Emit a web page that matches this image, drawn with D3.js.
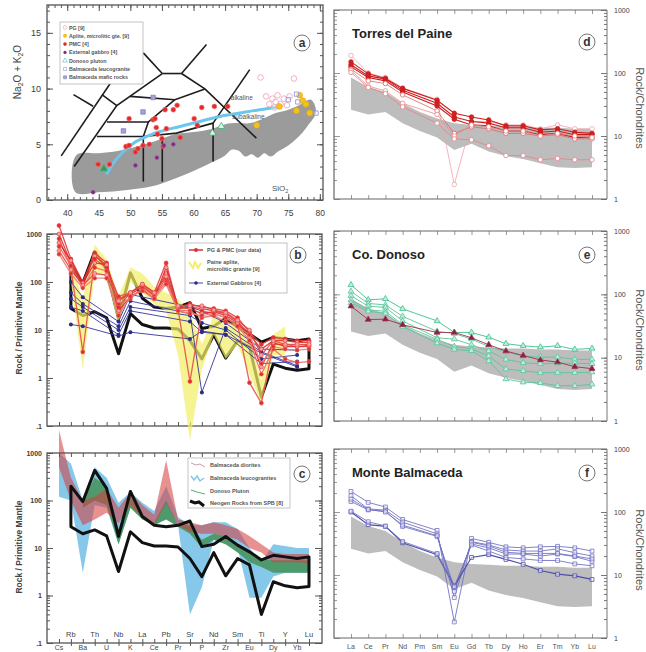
<!DOCTYPE html>
<html><head><meta charset="utf-8">
<script src="https://cdn.jsdelivr.net/npm/d3@7/dist/d3.min.js"></script>
<style>
html,body{margin:0;padding:0;background:#fff;}
svg text{font-family:Arial,"Liberation Sans",Helvetica,sans-serif;}
</style></head>
<body>
<svg id="chart" width="646" height="652"></svg>
<script>
// ======================= DATA =======================
// ---- Panel a : TAS diagram (SiO2 vs Na2O+K2O)
const tasXTicks = [40,45,50,55,60,65,70,75,80];
const tasYTicks = [0,5,10,15];
const tasGrayField = [[41.3,0.7],[41.4,4.0],[45,4.2],[48,4.4],[51,4.8],[54,5.3],[57,5.9],[60,6.1],[63,6.4],[65,6.8],[67,6.9],[69,6.9],[71,7.3],[73,7.8],[75,8.1],[77,8.6],[78.6,9.0],[79.4,7.9],[78,6.6],[76.5,5.6],[75,4.9],[73.5,4.4],[72.2,3.9],[71.2,4.2],[70.2,3.8],[69.2,4.1],[68.2,3.9],[67.2,4.4],[66,4.5],[65,4.0],[63,3.4],[60,2.6],[57,1.9],[54,1.3],[51,1.0],[48,0.8],[45,0.7]];
const tasLines = [
 [[39.05,3.96],[47.05,10.66]],
 [[41.0,9.46],[44.1,8.41]],
 [[41.1,3.0],[47.85,8.47],[55.05,11.35]],
 [[45.5,9.46],[47.85,8.47]],
 [[55.05,11.35],[52.05,13.2]],
 [[55.05,11.35],[58.1,11.35]],
 [[58.1,11.35],[62.05,13.96]],
 [[58.1,11.35],[61.8,9.97],[69.95,5.55]],
 [[68.9,11.7],[63.1,6.9]],
 [[49.95,9.3],[57.05,9.0],[61.8,9.97]],
 [[46.3,7.0],[52.85,7.0]],
 [[44.7,5.7],[52.05,5.7],[57.3,6.0],[63.1,6.9]],
 [[52.05,5.7],[52.05,1.65]],
 [[55.05,5.7],[55.05,1.65]],
 [[63.1,6.9],[63.1,3.45]],
 [[52.05,5.7],[52.85,7.0],[57.05,9.0]]
];
const alkalineDivide = [[46.3,2.4],[47.3,3.3],[48.9,4.35],[50.5,5.1],[52.6,5.7],[54.7,6.15],[57.85,6.6],[61.0,7.05],[64.2,7.5],[67.3,7.8],[70.5,8.1],[73.6,8.35]];
const ptsPG = [[70.6,11.0],[75.9,10.9],[71.5,9.3],[72,8.6],[72.5,9.1],[73,8.8],[73.3,9.4],[73.8,8.6],[74.3,9.1],[72.8,8.3],[74.8,8.5],[75.2,9.3]];
const ptsAplite = [[73.6,8.4],[76.8,9.4],[77.3,8.9],[77.8,8.6],[78.4,7.8],[76.3,8.0],[70.0,6.7]];
const ptsPMC = [[49.8,7.3],[53.6,7.2],[53.9,7.3],[54.1,6.5],[55.5,8.1],[56.8,8.1],[57.4,8.5],[61.3,8.3],[63.3,8.4],[65.4,8.4],[60.1,7.3],[60.6,6.7],[57.9,5.6],[55.7,6.4],[54.3,5.9],[55.0,5.5],[49.3,4.8],[49.8,4.9],[50.8,4.3],[51.2,4.6],[52.0,4.9],[53.0,5.0],[44.9,3.2],[46.7,3.2],[55.2,4.8]];
const ptsExtGabbro = [[44.1,0.7],[50.8,3.1],[54.2,3.8],[56.8,5.0],[55.3,4.9]];
const ptsDonoso = [[45.8,2.8],[64.4,6.6],[63.0,6.0]];
const ptsLeuco = [[76.3,9.5],[76.5,8.8],[79.4,7.8],[75.0,9.0]];
const ptsMafic = [[52.0,7.9],[48.9,6.2],[53.6,9.2]];
const tasLegend = ["PG [9]","Aplite, microlitic gte. [9]","PMC [4]","External gabbro [4]","Donoso pluton","Balmaceda leucogranite","Balmaceda mafic rocks"];

// ---- Panels b, c : primitive-mantle spider diagrams
const pmElements = ["Cs","Rb","Ba","Th","U","Nb","K","La","Ce","Pb","Pr","Sr","P","Nd","Zr","Sm","Eu","Ti","Dy","Y","Yb","Lu"];
const pmTicks = [0.1,1,10,100,1000];
const pmTickLabels = [".1","1","10","100","1000"];
const pgPmcSeries = [
 [1500,300,100,400,250,30,60,90,60,250,30,35,30,28,25,18,9,5,7,6.5,6,6],
 [1000,250,90,350,220,45,55,80,55,150,28,30,28,25,22,15,8,4,6,6,5.5,5.5],
 [800,200,3.5,300,200,50,60,85,50,120,27,0.85,25,22,18,13,0.8,0.3,5,5,4.5,4.5],
 [650,280,95,250,230,25,50,70,45,200,30,28,22,24,20,14,7,1.7,5.5,4.5,4.5,4.8],
 [550,220,80,200,170,35,45,75,50,100,26,25,18,20,15,12,6,1.2,4,2.5,2.1,2.2],
 [450,180,85,150,140,40,60,90,60,130,32,32,32,26,23,16,10,3,6,5,5,5],
 [380,150,75,120,120,20,50,65,45,90,25,22,20,22,18,12,8,2,4.5,4,3.8,4]
];
const extGabbroSeries = [
 [null,100,48,null,null,15,55,null,null,null,null,30,25,null,14,null,null,4,null,null,3.8,null],
 [null,60,35,null,null,12,40,null,null,null,null,22,0.5,null,11,null,null,3.5,null,null,1.8,null],
 [null,45,30,null,null,10,30,null,null,null,null,20,14,null,10,null,null,2.5,null,null,3,null],
 [null,30,25,null,null,8,25,null,null,null,null,15,9,null,8,null,null,2,null,null,2.2,null],
 [null,13,12,null,null,7.5,9,null,null,null,null,6.5,9.5,null,8,null,null,3.3,null,null,1.7,null]
];
const apliteUpper = [null,250,45,600,300,50,200,150,80,60,45,22,5,20,12,15,6,0.9,8,12,null,null];
const apliteLower = [null,100,1.5,150,150,12,100,60,35,25,3,0.05,1.5,8,2.5,5,1.2,0.3,3,3,null,null];
const neogeneUpper = [null,200,95,430,180,17.5,155,46,30,28,30,37,10.7,12,17.5,11.5,8.3,5.6,7,6.5,6,6.5];
const neogeneLower = [null,28,20,24,18,3.2,22,13,11,11,10.5,6,2.5,8,2.6,6,4.4,0.4,1.95,1.6,1.45,1.55];
const dioriteUpper = [3000,300,100,120,180,70,150,80,50,700,40,35,30,35,30,25,18,12,8,7.5,7.5,7.5];
const dioriteLower = [500,100,30,40,55,33,80,45,30,90,30,22,20,20,18,15,10,8,5,5,5,4.8];
const leucoUpper = [1000,600,100,500,300,90,150,90,60,200,45,30,30,35,35,25,10,5,12,11,10,10];
const leucoLower = [120,100,3,80,70,12,70,50,35,80,30,0.4,1.5,15,12,10,0.9,0.9,2.5,3,3,3];
const donosoUpper = [null,null,100,300,200,25,120,50,35,100,30,30,15,20,18,12,8,6,5.5,5.5,5.5,5.5];
const donosoLower = [null,null,70,100,80,12,70,40,30,40,28,20,10,15,12,8,5,4,3,3,3,3];
const legendB = ["PG & PMC (our data)","Paine aplite,","microlitic granite [9]","External Gabbros [4]"];
const legendC = ["Balmaceda diorites","Balmaceda leucogranites","Donoso Pluton","Neogen Rocks from SPB [8]"];

// ---- Panels d, e, f : chondrite-normalised REE
const reeElements = ["La","Ce","Pr","Nd","Pm","Sm","Eu","Gd","Tb","Dy","Ho","Er","Tm","Yb","Lu"];
const reeTicks = [1,10,100,1000];
const reeFieldUpper = [85,60,50,33,24,19,16,15,14.5,14,14,13.5,13.5,13,13];
const reeFieldLower = [26,22,24,16,12,9.5,6,7.5,5.7,4.8,4.3,3.7,3.2,3.1,3.2];
const paineSeries = [
 [190,100,85,58,null,38,1.7,17,17,15,15,13,15,13,13],
 [150,97,82,57,null,37,23,20,18,14.5,14.5,12.5,13,11.5,11],
 [135,90,80,53,null,33,20,17,16,13.5,13.5,11.5,12,10.5,10.5],
 [125,85,75,50,null,30,18.5,15,14.5,12,12,10.5,11,9.5,9.5],
 [115,75,68,45,null,25,11,14,13,11,11,10,10.5,9,9],
 [110,62,52,33,null,22,10,15,14,12,12,10,11,10,9.5],
 [102,59,47,29,null,16,9,8.7,7,4.9,4.9,4.2,4.4,4.2,4.2]
];
const donosoSeries = [
 [141,82,85,59,null,38,25,25,21,16.6,15.4,14.7,15.4,13.5,14],
 [111,72,68,45,null,26,24,19.6,15,12.3,10.6,10.2,10.2,9.4,9.4],
 [95,65,62,38,null,20.6,19.6,16,12.7,9.4,8.3,8,8.2,8.2,8],
 [82,57,54,33,null,19.4,15,13.8,10.6,6.6,6.2,5.8,5.8,5.8,5.9],
 [73,54,50,31,null,17,13.5,12.8,8.9,4.6,4.1,4.0,3.6,3.6,3.8],
 [65,40,40.5,33,null,25,25,20.6,16,12.7,10.8,9.2,8.5,7.2,6.7]
];
const balmacedaSeries = [
 [212,142,120,76,null,51,1.8,38,33,28,27,28,28.5,27,24],
 [181,112,107,69,null,45,4.4,34,30,25,24,24,26,22.6,20],
 [147,108,103,59,null,41,6.3,31,27,21.5,21.5,20,21.5,19.6,16.5],
 [160,110,100,62,null,42,5.5,33,29,23,22,22,22,20,18],
 [100,63,59,32.5,null,21,6.7,19,21,17.7,14.8,11.8,10.3,9.7,8.5],
 [103,70,60,34,null,22,6.5,30,24,19,18,17,17,15,14]
];
const reeTitles = ["Torres del Paine","Co. Donoso","Monte Balmaceda"];

// ======================= DRAWING =======================
const svg = d3.select("#chart");
const INK = "#3c3c3c";
const FONT = "Arial, 'Liberation Sans', sans-serif";

function noDomain(g){ g.select(".domain").remove(); }
function tickStyle(col, fs, bold){
  return g => { g.attr("font-family",FONT).attr("font-size",fs||8).attr("font-weight",bold?"bold":"normal");
    g.selectAll(".tick line").attr("stroke",col||"#555");
    g.selectAll(".tick text").attr("fill",INK); };
}
function frame(x0,y0,x1,y1,col,w){
  svg.append("rect").attr("x",x0).attr("y",y0).attr("width",x1-x0).attr("height",y1-y0)
    .attr("fill","none").attr("stroke",col||"#555").attr("stroke-width",w||1.3);
}
function badge(cx,cy,letter){
  svg.append("circle").attr("cx",cx).attr("cy",cy).attr("r",8).attr("fill","#fff").attr("stroke","#777").attr("stroke-width",1);
  svg.append("text").attr("x",cx).attr("y",cy+4).attr("text-anchor","middle")
    .attr("font-family","'DejaVu Serif','Liberation Serif',serif").attr("font-weight","bold")
    .attr("font-size",12).attr("fill","#333").text(letter);
}
function pairs(keys, vals){ return keys.map((k,i)=>[k,vals[i]]).filter(d=>d[1]!=null); }
function pairs2(keys, hi, lo){ return keys.map((k,i)=>({k, hi:hi[i], lo:lo[i]})).filter(d=>d.hi!=null&&d.lo!=null); }

// ---------------- Panel a ----------------
const aL=47,aR=323,aT=5,aB=200;
const xA = d3.scaleLinear([36.8,80.5],[aL,aR]);
const yA = d3.scaleLinear([0,17.5],[aB,aT]);
const lineA = d3.line().x(d=>xA(d[0])).y(d=>yA(d[1]));

svg.append("path").datum(tasGrayField)
  .attr("d", d3.line().x(d=>xA(d[0])).y(d=>yA(d[1])).curve(d3.curveCatmullRomClosed.alpha(0.5)))
  .attr("fill","#9b9b9b").attr("stroke","none");
svg.append("g").selectAll("path").data(tasLines).join("path")
  .attr("d",lineA).attr("fill","none").attr("stroke","#1e1e1e").attr("stroke-width",1.6);
svg.append("path").datum(alkalineDivide)
  .attr("d", d3.line().x(d=>xA(d[0])).y(d=>yA(d[1])).curve(d3.curveCatmullRom))
  .attr("fill","none").attr("stroke","#6cc6ec").attr("stroke-width",3).attr("stroke-linecap","round");
svg.append("text").attr("x",xA(65.9)).attr("y",yA(8.95)).attr("font-size",6.5).attr("fill","#555").text("alkaline");
svg.append("text").attr("x",xA(66.1)).attr("y",yA(7.25)).attr("font-size",6.5).attr("fill","#555").text("subalkaline");

// points
const gPts = svg.append("g");
gPts.selectAll(".pg").data(ptsPG).join("circle").attr("cx",d=>xA(d[0])).attr("cy",d=>yA(d[1])).attr("r",2.8)
  .attr("fill","#fff").attr("fill-opacity",0.3).attr("stroke","#f0a8bc").attr("stroke-width",0.9);
gPts.selectAll(".ap").data(ptsAplite).join("circle").attr("cx",d=>xA(d[0])).attr("cy",d=>yA(d[1])).attr("r",3)
  .attr("fill","#f2c21e").attr("stroke","#e0a800").attr("stroke-width",0.5);
gPts.selectAll(".pmc").data(ptsPMC).join("circle").attr("cx",d=>xA(d[0])).attr("cy",d=>yA(d[1])).attr("r",2.4)
  .attr("fill","#e42a2a").attr("stroke","#f07070").attr("stroke-width",0.6);
gPts.selectAll(".eg").data(ptsExtGabbro).join("circle").attr("cx",d=>xA(d[0])).attr("cy",d=>yA(d[1])).attr("r",2.1)
  .attr("fill","#7c2c7c").attr("stroke","#b070b0").attr("stroke-width",0.5);
gPts.selectAll(".dn").data(ptsDonoso).join("path").attr("transform",d=>`translate(${xA(d[0])},${yA(d[1])})`)
  .attr("d",d3.symbol(d3.symbolTriangle,22)).attr("fill",(d,i)=>i===0?"#2f9a5a":"#d8f2e4").attr("stroke","#40b070").attr("stroke-width",0.8);
gPts.selectAll(".lc").data(ptsLeuco).join("path").attr("transform",d=>`translate(${xA(d[0])},${yA(d[1])})`)
  .attr("d",d3.symbol(d3.symbolSquare,18)).attr("fill","#fff").attr("fill-opacity",0.4).attr("stroke","#9a96d8").attr("stroke-width",0.9);
gPts.selectAll(".mf").data(ptsMafic).join("path").attr("transform",d=>`translate(${xA(d[0])},${yA(d[1])})`)
  .attr("d",d3.symbol(d3.symbolSquare,20)).attr("fill","#a4a2d6").attr("stroke","#7a78b8").attr("stroke-width",0.7);

// axes a
svg.append("g").attr("transform",`translate(0,${aB})`).call(d3.axisBottom(xA).tickValues(d3.range(37,81)).tickSize(-3).tickFormat("")).call(noDomain).call(tickStyle());
svg.append("g").attr("transform",`translate(0,${aB})`).call(d3.axisBottom(xA).tickValues(tasXTicks).tickSize(-6).tickPadding(10)).call(noDomain).call(tickStyle("#555",8.5));
svg.append("g").attr("transform",`translate(0,${aT})`).call(d3.axisTop(xA).tickValues(d3.range(37,81)).tickSize(-3).tickFormat("")).call(noDomain).call(tickStyle());
svg.append("g").attr("transform",`translate(0,${aT})`).call(d3.axisTop(xA).tickValues(tasXTicks).tickSize(-6).tickFormat("")).call(noDomain).call(tickStyle());
svg.append("g").attr("transform",`translate(${aL},0)`).call(d3.axisLeft(yA).tickValues(d3.range(0,18)).tickSize(-3).tickFormat("")).call(noDomain).call(tickStyle());
svg.append("g").attr("transform",`translate(${aL},0)`).call(d3.axisLeft(yA).tickValues(tasYTicks).tickSize(-6).tickPadding(6)).call(noDomain).call(tickStyle("#555",9));
svg.append("g").attr("transform",`translate(${aR},0)`).call(d3.axisRight(yA).tickValues(d3.range(0,18)).tickSize(-3).tickFormat("")).call(noDomain).call(tickStyle());
svg.append("g").attr("transform",`translate(${aR},0)`).call(d3.axisRight(yA).tickValues(tasYTicks).tickSize(-6).tickFormat("")).call(noDomain).call(tickStyle());
frame(aL,aT,aR,aB,"#555",1.3);
const sio2 = svg.append("text").attr("x",272).attr("y",191).attr("font-size",8).attr("fill","#555");
sio2.append("tspan").text("SiO"); sio2.append("tspan").attr("font-size",5.5).attr("dy",2).text("2");
const ylab = svg.append("text").attr("transform","translate(21,72) rotate(-90)").attr("text-anchor","middle").attr("font-size",10).attr("fill","#444");
ylab.append("tspan").text("Na"); ylab.append("tspan").attr("font-size",7).attr("dy",2).text("2");
ylab.append("tspan").attr("dy",-2).text("O + K"); ylab.append("tspan").attr("font-size",7).attr("dy",2).text("2");
ylab.append("tspan").attr("dy",-2).text("O");

// legend a
svg.append("rect").attr("x",60).attr("y",22).attr("width",83).attr("height",62).attr("fill","#fff").attr("stroke","#aaa").attr("stroke-width",0.7);
const legA = svg.append("g");
tasLegend.forEach((t,i)=>{
  const y = 27.5 + 8.3*i;
  legA.append("text").attr("x",69).attr("y",y+2).attr("font-size",5.3).attr("font-weight","bold").attr("fill","#555").text(t);
});
const lm = [[65,27.5],[65,35.8],[65,44.1],[65,52.4],[65,60.7],[65,69],[65,77.3]];
legA.append("circle").attr("cx",lm[0][0]).attr("cy",lm[0][1]).attr("r",1.8).attr("fill","#fff").attr("stroke","#f0a8bc").attr("stroke-width",0.7);
legA.append("circle").attr("cx",lm[1][0]).attr("cy",lm[1][1]).attr("r",2).attr("fill","#f2c21e");
legA.append("circle").attr("cx",lm[2][0]).attr("cy",lm[2][1]).attr("r",1.8).attr("fill","#e42a2a");
legA.append("circle").attr("cx",lm[3][0]).attr("cy",lm[3][1]).attr("r",1.6).attr("fill","#7c2c7c");
legA.append("path").attr("transform",`translate(${lm[4][0]},${lm[4][1]})`).attr("d",d3.symbol(d3.symbolTriangle,10)).attr("fill","#fff").attr("stroke","#58b8c8").attr("stroke-width",0.6);
legA.append("path").attr("transform",`translate(${lm[5][0]},${lm[5][1]})`).attr("d",d3.symbol(d3.symbolSquare,9)).attr("fill","#fff").attr("stroke","#9a96d8").attr("stroke-width",0.6);
legA.append("path").attr("transform",`translate(${lm[6][0]},${lm[6][1]})`).attr("d",d3.symbol(d3.symbolSquare,9)).attr("fill","#a4a2d6").attr("stroke","#7a78b8").attr("stroke-width",0.5);
badge(302,43,"a");

// ---------------- Panels b & c (shared x) ----------------
const pL=47, pR=322;
const xPM = d3.scalePoint(pmElements,[59,309]);
function pmAxes(y, top, bot){
  const minor = y.ticks();
  svg.append("g").attr("transform",`translate(${pL},0)`).call(d3.axisLeft(y).tickValues(minor).tickSize(-3).tickFormat("")).call(noDomain).call(tickStyle());
  svg.append("g").attr("transform",`translate(${pL},0)`).call(d3.axisLeft(y).tickValues(pmTicks).tickSize(-6).tickPadding(5).tickFormat((d,i)=>pmTickLabels[i])).call(noDomain).call(tickStyle("#555",7,true));
  svg.append("g").attr("transform",`translate(${pR},0)`).call(d3.axisRight(y).tickValues(minor).tickSize(-3).tickFormat("")).call(noDomain).call(tickStyle());
  svg.append("g").attr("transform",`translate(${pR},0)`).call(d3.axisRight(y).tickValues(pmTicks).tickSize(-7).tickFormat("")).call(noDomain).call(tickStyle());
  svg.append("g").attr("transform",`translate(0,${top})`).call(d3.axisTop(xPM).tickSize(-4).tickFormat("")).call(noDomain).call(tickStyle());
  svg.append("g").attr("transform",`translate(0,${bot})`).call(d3.axisBottom(xPM).tickSize(-4).tickFormat("")).call(noDomain).call(tickStyle());
  frame(pL,top,pR,bot,"#555",1.3);
}
function pmYLabel(cy){
  svg.append("text").attr("transform",`translate(22,${cy}) rotate(-90)`).attr("text-anchor","middle")
    .attr("font-size",8.5).attr("font-weight","bold").attr("fill","#444").text("Rock / Primitive Mantle");
}
function neogene(y, g){
  const up = pairs(pmElements, neogeneUpper), lo = pairs(pmElements, neogeneLower).reverse();
  g.append("path").datum(up.concat(lo)).attr("d", d3.line().x(d=>xPM(d[0])).y(d=>y(d[1])).curve(d3.curveLinearClosed))
    .attr("fill","none").attr("stroke","#111").attr("stroke-width",3).attr("stroke-linejoin","round");
}

// Panel b
const bT=234,bB=426;
const yB = d3.scaleLog([0.1,1000],[bB,bT]);
pmAxes(yB,bT,bB);
const gB = svg.append("g");
neogene(yB, gB);
gB.append("path").datum(pairs2(pmElements, apliteUpper, apliteLower))
  .attr("d", d3.area().x(d=>xPM(d.k)).y0(d=>yB(d.lo)).y1(d=>yB(d.hi)))
  .attr("fill","#f3ee6a").attr("fill-opacity",0.72);
const lineB = d3.line().x(d=>xPM(d[0])).y(d=>yB(d[1]));
extGabbroSeries.forEach(s=>{
  const p = pairs(pmElements,s);
  gB.append("path").datum(p).attr("d",lineB).attr("fill","none").attr("stroke","#34349a").attr("stroke-width",0.9);
  gB.selectAll(null).data(p).join("circle").attr("cx",d=>xPM(d[0])).attr("cy",d=>yB(d[1])).attr("r",2).attr("fill","#2c2c88");
});
const redCols = ["#e8383a","#e03030","#e85048","#d82828","#ec6a60","#e24440","#f07a70"];
pgPmcSeries.forEach((s,i)=>{
  const p = pairs(pmElements,s);
  gB.append("path").datum(p).attr("d",lineB).attr("fill","none").attr("stroke",redCols[i]).attr("stroke-width",1.3).attr("stroke-opacity",0.9);
  gB.selectAll(null).data(p).join("circle").attr("cx",d=>xPM(d[0])).attr("cy",d=>yB(d[1])).attr("r",2)
    .attr("fill",i%2?"#f5a0a0":"#e03030").attr("stroke",redCols[i]).attr("stroke-width",0.6);
});
pmYLabel(328);
// legend b
svg.append("rect").attr("x",185).attr("y",243).attr("width",102).attr("height",50).attr("fill","#fff").attr("stroke","#aaa").attr("stroke-width",0.7);
svg.append("line").attr("x1",189).attr("x2",203).attr("y1",250).attr("y2",250).attr("stroke","#e03030").attr("stroke-width",1.5);
svg.append("circle").attr("cx",196).attr("cy",250).attr("r",2).attr("fill","#e03030");
svg.append("path").attr("d","M189,262 L193,268 L195,262 L198,268 L201,263").attr("fill","none").attr("stroke","#f3ee6a").attr("stroke-width",2);
svg.append("line").attr("x1",189).attr("x2",203).attr("y1",283).attr("y2",283).attr("stroke","#34349a").attr("stroke-width",0.9);
svg.append("circle").attr("cx",196).attr("cy",283).attr("r",1.8).attr("fill","#2c2c88");
[250,262,268.5,283].forEach((y,i)=>{
  svg.append("text").attr("x",207).attr("y",y+2).attr("font-size",5.5).attr("font-weight","bold").attr("fill","#555").text(legendB[i]);
});
badge(298,255,"b");

// Panel c
const cT=453,cB=643;
const yC = d3.scaleLog([0.1,1000],[cB,cT]);
const gC = svg.append("g");
const areaC = d3.area().x(d=>xPM(d.k)).y0(d=>yC(d.lo)).y1(d=>yC(d.hi));
gC.append("path").datum(pairs2(pmElements, leucoUpper, leucoLower)).attr("d",areaC).attr("fill","#86c8ea");
gC.append("path").datum(pairs2(pmElements, donosoUpper, donosoLower)).attr("d",areaC).attr("fill","#4e9a6c");
gC.append("path").datum(pairs2(pmElements, dioriteUpper, dioriteLower)).attr("d",areaC).attr("fill","#d63a3a").attr("fill-opacity",0.56);
neogene(yC, gC);
pmAxes(yC,cT,cB);
svg.append("g").attr("transform",`translate(0,${cB})`).call(d3.axisBottom(xPM).tickValues(pmElements.filter((e,i)=>i%2===1)).tickSize(3).tickFormat("")).call(noDomain).call(tickStyle());
// element labels
svg.append("g").selectAll("text").data(pmElements.filter((e,i)=>i%2===1)).join("text")
  .attr("x",d=>xPM(d)).attr("y",637).attr("text-anchor","middle").attr("font-size",7.5).style("fill","#444").text(d=>d);
svg.append("g").selectAll("text").data(pmElements.filter((e,i)=>i%2===0)).join("text")
  .attr("x",d=>xPM(d)).attr("y",650).attr("text-anchor","middle").attr("font-size",7).style("fill","#444").text(d=>d);
pmYLabel(547);
// legend c
svg.append("rect").attr("x",188).attr("y",458).attr("width",102).attr("height",50).attr("fill","#fff").attr("stroke","#aaa").attr("stroke-width",0.7);
svg.append("path").attr("d","M191,463 L196,465 L200,464 L205,467").attr("fill","none").attr("stroke","#c8a0b0").attr("stroke-width",1);
svg.append("path").attr("d","M191,476 L194,480 L197,476 L200,481 L204,478").attr("fill","none").attr("stroke","#86c8ea").attr("stroke-width",1.5);
svg.append("path").attr("d","M191,490 L197,492 L205,494").attr("fill","none").attr("stroke","#6ab088").attr("stroke-width",1.2);
svg.append("path").attr("d","M190,501 L195,503 L199,502 L204,506").attr("fill","none").attr("stroke","#111").attr("stroke-width",3);
[465,478,491,503].forEach((y,i)=>{
  svg.append("text").attr("x",210).attr("y",y+2).attr("font-size",5.5).attr("font-weight","bold").attr("fill","#555").text(legendC[i]);
});
badge(302,474,"c");

// ---------------- Panels d, e, f ----------------
const rL=334, rR=607;
const xREE = d3.scalePoint(reeElements,[351,592]);
const reePanels = [
  {top:10, bot:199, series:paineSeries, title:reeTitles[0], badge:"d", by:42, lab:108},
  {top:231, bot:421, series:donosoSeries, title:reeTitles[1], badge:"e", by:255, lab:330},
  {top:449, bot:638, series:balmacedaSeries, title:reeTitles[2], badge:"f", by:473, lab:550}
];
reePanels.forEach((P,pi)=>{
  const y = d3.scaleLog([1,1000],[P.bot,P.top]);
  const g = svg.append("g");
  g.append("path").datum(pairs2(reeElements, reeFieldUpper, reeFieldLower))
    .attr("d", d3.area().x(d=>xREE(d.k)).y0(d=>y(d.lo)).y1(d=>y(d.hi))).attr("fill","#bdbdbd");
  const ln = d3.line().x(d=>xREE(d[0])).y(d=>y(d[1]));
  P.series.forEach((s,i)=>{
    const p = pairs(reeElements,s);
    let col, fill, sym, w=1;
    if(pi===0){
      const dark = [false,true,true,true,false,false,false][i];
      col = dark ? "#cc1c1c" : ["#f4a0aa","","","","#e06464","#e88a8a","#e88088"][i];
      fill = dark ? "#d42020" : "#fff";
      sym = d3.symbolCircle; w = dark?1.1:0.8;
    } else if(pi===1){
      const mar = i===5;
      col = mar ? "#a0304c" : (i===0?"#3cc08a":"#5cc49a");
      fill = mar ? "#8a2040" : "#bfeedd";
      sym = d3.symbolTriangle; w = 0.9;
    } else {
      col = i===4 ? "#4e4ea8" : "#7474c4";
      fill = "#fff";
      sym = d3.symbolSquare; w = i===4?1.2:0.9;
    }
    g.append("path").datum(p).attr("d",ln).attr("fill","none").attr("stroke",col).attr("stroke-width",w);
    g.selectAll(null).data(p).join("path").attr("transform",d=>`translate(${xREE(d[0])},${y(d[1])})`)
      .attr("d",d3.symbol(sym,pi===0?16:15)).attr("fill",fill).attr("fill-opacity",pi===2?0.5:1).attr("stroke",col).attr("stroke-width",0.8);
  });
  const minor = y.ticks();
  svg.append("g").attr("transform",`translate(${rL},0)`).call(d3.axisLeft(y).tickValues(minor).tickSize(-3).tickFormat("")).call(noDomain).call(tickStyle("#999"));
  svg.append("g").attr("transform",`translate(${rL},0)`).call(d3.axisLeft(y).tickValues(reeTicks).tickSize(-6).tickFormat("")).call(noDomain).call(tickStyle("#999"));
  svg.append("g").attr("transform",`translate(${rR},0)`).call(d3.axisRight(y).tickValues(minor).tickSize(-3).tickFormat("")).call(noDomain).call(tickStyle("#777"));
  svg.append("g").attr("transform",`translate(${rR},0)`).call(d3.axisRight(y).tickValues(reeTicks).tickSize(-6).tickPadding(7).tickFormat(d3.format("d"))).call(noDomain).call(tickStyle("#777",7));
  svg.append("g").attr("transform",`translate(0,${P.top})`).call(d3.axisTop(xREE).tickSize(-4).tickFormat("")).call(noDomain).call(tickStyle("#999"));
  svg.append("g").attr("transform",`translate(0,${P.bot})`).call(d3.axisBottom(xREE).tickSize(-4).tickFormat("")).call(noDomain).call(tickStyle("#999"));
  svg.append("path").attr("d",`M${rR},${P.top} L${rL},${P.top} L${rL},${P.bot} L${rR},${P.bot}`).attr("fill","none").attr("stroke","#666").attr("stroke-width",1.2);
  svg.append("line").attr("x1",rR).attr("x2",rR).attr("y1",P.top).attr("y2",P.bot).attr("stroke","#777").attr("stroke-width",1);
  svg.append("text").attr("x",352).attr("y",P.top+28).attr("font-size",13).attr("font-weight","bold").attr("fill","#222").text(P.title);
  badge(587,P.by,P.badge);
  svg.append("text").attr("transform",`translate(636,${P.lab}) rotate(90)`).attr("text-anchor","middle")
    .attr("font-size",11).attr("fill","#555").text("Rock/Chondrites");
});
svg.append("g").selectAll("text").data(reeElements).join("text")
  .attr("x",d=>xREE(d)).attr("y",649).attr("text-anchor","middle").attr("font-size",7).style("fill","#555").text(d=>d);
</script>
</body></html>
